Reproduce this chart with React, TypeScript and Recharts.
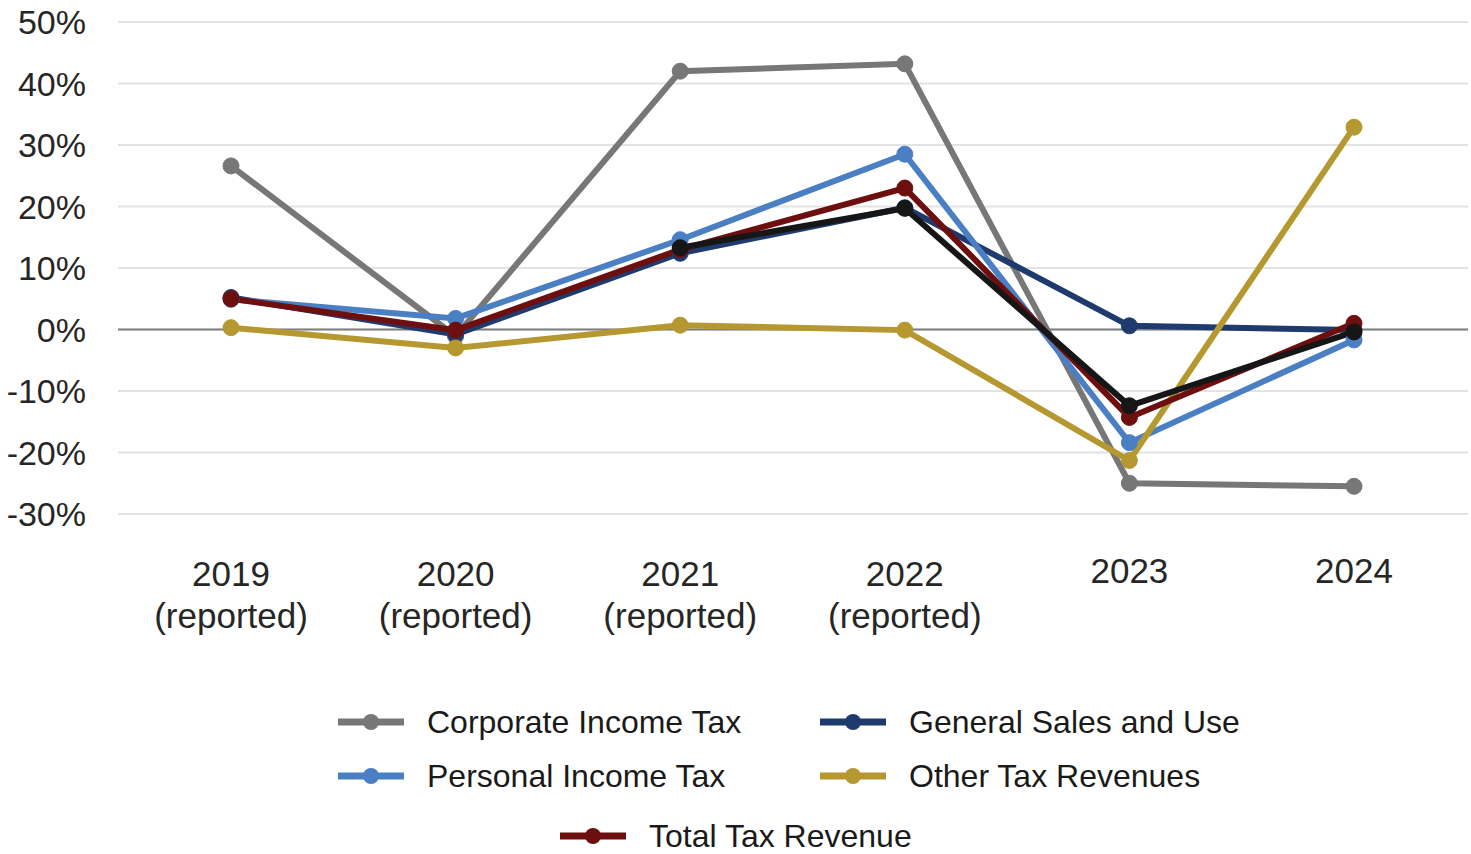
import React from 'react';
import { LineChart, Line, XAxis, YAxis, CartesianGrid, ReferenceLine, Legend } from 'recharts';

const years = ['2019', '2020', '2021', '2022', '2023', '2024'];
const notes = ['(reported)', '(reported)', '(reported)', '(reported)', '', ''];

const corporateIncomeTax = [26.6, -1.1, 42.0, 43.2, -25.0, -25.5];
const generalSalesAndUse = [5.2, -0.8, 12.4, 19.8, 0.6, -0.1];
const personalIncomeTax = [4.9, 1.8, 14.6, 28.5, -18.4, -1.7];
const otherTaxRevenues = [0.3, -3.0, 0.7, -0.1, -21.3, 32.9];
const totalTaxRevenue = [5.0, -0.1, 13.0, 23.0, -14.3, 1.0];
const unlabeledSeries = [null, null, 13.3, 19.7, -12.4, -0.4];

const yTicks = [-30, -20, -10, 0, 10, 20, 30, 40, 50];

const data = years.map((year, i) => ({
  year,
  note: notes[i],
  corporate: corporateIncomeTax[i],
  sales: generalSalesAndUse[i],
  personal: personalIncomeTax[i],
  other: otherTaxRevenues[i],
  total: totalTaxRevenue[i],
  extra: unlabeledSeries[i],
}));

const SERIES = [
  { key: 'corporate', name: 'Corporate Income Tax', color: '#777777' },
  { key: 'sales', name: 'General Sales and Use', color: '#1f3b6e' },
  { key: 'personal', name: 'Personal Income Tax', color: '#4b7fc4' },
  { key: 'other', name: 'Other Tax Revenues', color: '#b5982f' },
  { key: 'total', name: 'Total Tax Revenue', color: '#6e0f0f' },
];

const FONT = '"Liberation Sans", Arial, sans-serif';

const XTick = ({ x, y, payload, index }: any) => {
  const note = notes[index] || '';
  return (
    <g transform={`translate(${x},${y})`}>
      <text x={0} y={note ? 72 : 69} textAnchor="middle" fill="#262626" fontSize={35} fontFamily={FONT}>
        {payload.value}
      </text>
      {note && (
        <text x={0} y={114} textAnchor="middle" fill="#262626" fontSize={35} fontFamily={FONT}>
          {note}
        </text>
      )}
    </g>
  );
};

// legend slots: left edge of icon, row centre
const LEGEND_SLOTS: Record<string, { left: number; top: number }> = {
  'Corporate Income Tax': { left: 338, top: 28 },
  'General Sales and Use': { left: 820, top: 28 },
  'Personal Income Tax': { left: 338, top: 82 },
  'Other Tax Revenues': { left: 820, top: 82 },
  'Total Tax Revenue': { left: 560, top: 142 },
};

const renderLegend = (props: any) => {
  const items = (props.payload || []).filter((p: any) => p.type !== 'none');
  return (
    <div style={{ position: 'relative', height: 160, width: 1471 }}>
      {items.map((entry: any) => {
        const slot = LEGEND_SLOTS[entry.value];
        if (!slot) return null;
        return (
          <div
            key={entry.value}
            style={{
              position: 'absolute',
              left: slot.left,
              top: slot.top - 20,
              height: 40,
              display: 'flex',
              alignItems: 'center',
              whiteSpace: 'nowrap',
            }}
          >
            <svg width={66} height={20}>
              <line x1={0} y1={10} x2={66} y2={10} stroke={entry.color} strokeWidth={7} />
              <circle cx={33} cy={10} r={8} fill={entry.color} />
            </svg>
            <span style={{ marginLeft: 23, fontSize: 32, fontFamily: FONT, color: '#1a1a1a' }}>{entry.value}</span>
          </div>
        );
      })}
    </div>
  );
};

export default function App() {
  return (
    <div style={{ width: 1471, height: 854, background: '#ffffff' }}>
      <style>{'body{margin:0;}'}</style>
      <LineChart width={1471} height={854} data={data} margin={{ top: 22, right: 3, left: 0, bottom: 0 }}>
        <CartesianGrid vertical={false} stroke="#e3e3e3" strokeWidth={2} />
        <XAxis
          dataKey="year"
          axisLine={false}
          tickLine={false}
          tickSize={0}
          tickMargin={0}
          height={180}
          interval={0}
          padding={{ left: 113, right: 114 }}
          tick={<XTick />}
        />
        <YAxis
          domain={[-30, 50]}
          ticks={yTicks}
          tickFormatter={(v: number) => `${v}%`}
          axisLine={false}
          tickLine={false}
          tickSize={0}
          tickMargin={32}
          width={118}
          tick={{ fontSize: 34, fill: '#262626', fontFamily: FONT }}
        />
        <ReferenceLine y={0} stroke="#7f7f7f" strokeWidth={2} />
        <Legend verticalAlign="bottom" height={160} content={renderLegend} />
        {SERIES.map((s) => (
          <Line
            key={s.key}
            dataKey={s.key}
            name={s.name}
            stroke={s.color}
            strokeWidth={6}
            dot={{ r: 8, fill: s.color, stroke: s.color, strokeWidth: 1 }}
            activeDot={false}
            isAnimationActive={false}
          />
        ))}
        <Line
          dataKey="extra"
          name="Unlabeled"
          stroke="#161616"
          strokeWidth={6}
          dot={{ r: 8, fill: '#161616', stroke: '#161616', strokeWidth: 1 }}
          activeDot={false}
          legendType="none"
          connectNulls={false}
          isAnimationActive={false}
        />
      </LineChart>
    </div>
  );
}
